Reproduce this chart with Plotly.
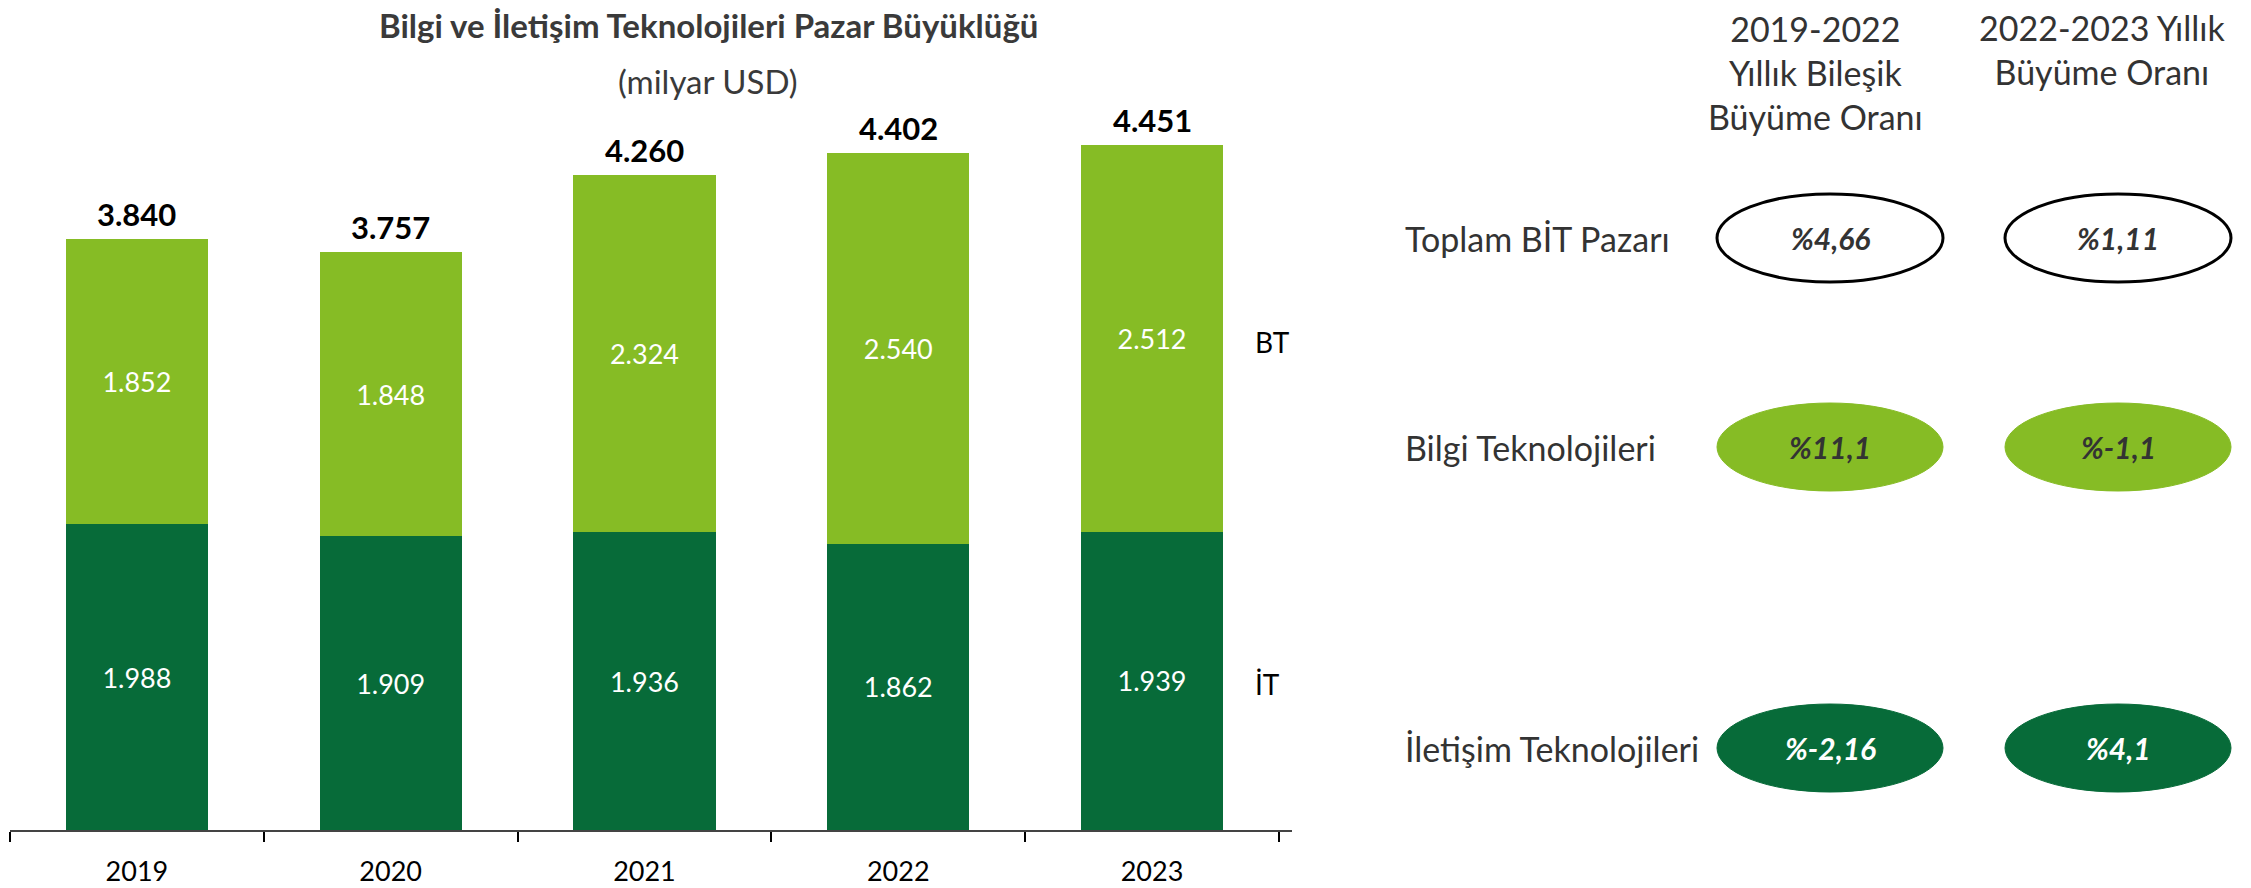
import plotly.graph_objects as go

# ---------------- data ----------------
YEARS = ["2019", "2020", "2021", "2022", "2023"]
IT_VALUES = [1988, 1909, 1936, 1862, 1939]      # İletişim Teknolojileri
BT_VALUES = [1852, 1848, 2324, 2540, 2512]      # Bilgi Teknolojileri
TOTALS = [3840, 3757, 4260, 4402, 4451]
SERIES_LABELS = ["İT", "BT"]

TITLE = "Bilgi ve İletişim Teknolojileri Pazar Büyüklüğü"
SUBTITLE = "(milyar USD)"

ROW_LABELS = ["Toplam BİT Pazarı", "Bilgi Teknolojileri", "İletişim Teknolojileri"]
COL_HEADERS = ["2019-2022<br>Yıllık Bileşik<br>Büyüme Oranı", "2022-2023 Yıllık<br>Büyüme Oranı"]
CAGR_2019_2022 = ["%4,66", "%11,1", "%-2,16"]
GROWTH_2022_2023 = ["%1,11", "%-1,1", "%4,1"]

# ---------------- style / layout ----------------
W, H = 2251, 888
FONT = "Lato"
LIGHT = "#86BC25"
DARK = "#076B39"
TXT = "#333333"

PLOT_L, PLOT_R = 10, 1292          # px
PLOT_T, PLOT_B = 100, 830          # px
Y_MAX = 4746

ROW_Y = [238, 447, 748]            # px centers of table rows
COL_X = [1830, 2118]               # px centers of ellipse columns
HEADER_X = [1815, 2102]
HEADER_Y = [72, 50]
LABEL_X = 1403
ELL_W, ELL_H = 226, 88
ROW_FILL = ["white", LIGHT, DARK]
ROW_LINE = ["black", LIGHT, DARK]
ROW_TXT = [TXT, TXT, "white"]


def px(x):
    return x / W


def py(y):
    return 1 - y / H


def fmt(v):
    return f"{v:,}".replace(",", ".")


fig = go.Figure()
fig.add_trace(go.Bar(
    x=YEARS, y=IT_VALUES, name=SERIES_LABELS[0], marker=dict(color=DARK, line=dict(width=0)),
    text=[fmt(v) for v in IT_VALUES], textposition="inside", insidetextanchor="middle",
    textangle=0, textfont=dict(color="white", size=27, family=FONT), hoverinfo="skip",
))
fig.add_trace(go.Bar(
    x=YEARS, y=BT_VALUES, name=SERIES_LABELS[1], marker=dict(color=LIGHT, line=dict(width=0)),
    text=[fmt(v) for v in BT_VALUES], textposition="inside", insidetextanchor="middle",
    textangle=0, textfont=dict(color="white", size=27, family=FONT), hoverinfo="skip",
))

annotations = []
# totals above bars (x given as category index)
for i, t in enumerate(TOTALS):
    annotations.append(dict(
        x=i, y=t, xref="x", yref="y", text=f"<b>{fmt(t)}</b>", showarrow=False,
        yanchor="bottom", yshift=4, font=dict(size=31, color="black", family=FONT),
    ))
last = len(YEARS) - 1
# series labels right of the last bar
annotations.append(dict(
    x=last, y=IT_VALUES[-1] + BT_VALUES[-1] / 2, xref="x", yref="y",
    text=SERIES_LABELS[1], showarrow=False, xanchor="left", xshift=101, yshift=-3,
    font=dict(size=28, color="black", family=FONT),
))
annotations.append(dict(
    x=last, y=IT_VALUES[-1] / 2, xref="x", yref="y",
    text=SERIES_LABELS[0], showarrow=False, xanchor="left", xshift=101, yshift=-3,
    font=dict(size=28, color="black", family=FONT),
))
# title + subtitle
annotations.append(dict(
    x=px(708), y=py(25), xref="paper", yref="paper", text=f"<b>{TITLE}</b>", showarrow=False,
    xanchor="center", yanchor="middle", font=dict(size=33, color="#3a3a3a", family=FONT),
))
annotations.append(dict(
    x=px(708), y=py(81), xref="paper", yref="paper", text=SUBTITLE, showarrow=False,
    xanchor="center", yanchor="middle", font=dict(size=33, color="#3a3a3a", family=FONT),
))

# right-hand table
shapes = []
for j, hdr in enumerate(COL_HEADERS):
    annotations.append(dict(
        x=px(HEADER_X[j]), y=py(HEADER_Y[j]), xref="paper", yref="paper", text=hdr,
        showarrow=False, xanchor="center", yanchor="middle", align="center",
        font=dict(size=34, color=TXT, family=FONT),
    ))
for i, lab in enumerate(ROW_LABELS):
    annotations.append(dict(
        x=px(LABEL_X), y=py(ROW_Y[i]), xref="paper", yref="paper", text=lab,
        showarrow=False, xanchor="left", yanchor="middle",
        font=dict(size=34, color=TXT, family=FONT),
    ))
    for j, vals in enumerate([CAGR_2019_2022, GROWTH_2022_2023]):
        cx, cy = COL_X[j], ROW_Y[i]
        shapes.append(dict(
            type="circle", xref="paper", yref="paper",
            x0=px(cx - ELL_W / 2), x1=px(cx + ELL_W / 2),
            y0=py(cy + ELL_H / 2), y1=py(cy - ELL_H / 2),
            fillcolor=ROW_FILL[i], line=dict(color=ROW_LINE[i], width=3 if i == 0 else 1),
            layer="above",
        ))
        annotations.append(dict(
            x=px(cx), y=py(cy), xref="paper", yref="paper", text=f"<b><i>{vals[i]}</i></b>",
            showarrow=False, xanchor="center", yanchor="middle",
            font=dict(size=30, color=ROW_TXT[i], family=FONT),
        ))

fig.update_layout(
    width=W, height=H, barmode="stack", bargap=0.44, showlegend=False,
    margin=dict(l=0, r=0, t=0, b=0), paper_bgcolor="white", plot_bgcolor="white",
    font=dict(family=FONT),
    xaxis=dict(
        domain=[px(PLOT_L), px(PLOT_R)], type="category", tickson="boundaries",
        ticks="outside", ticklen=10, tickwidth=1.5, tickcolor="black",
        showline=True, linecolor="#444444", linewidth=2, showgrid=False,
        ticklabelstandoff=17,
        tickfont=dict(size=27, color="black", family=FONT), fixedrange=True,
    ),
    yaxis=dict(
        domain=[py(PLOT_B), py(PLOT_T)], range=[0, Y_MAX], visible=False,
        showgrid=False, zeroline=False, fixedrange=True,
    ),
    annotations=annotations, shapes=shapes,
)

fig.write_html("out.html", config={"displayModeBar": False},
               post_script="document.body.style.margin='0';")
